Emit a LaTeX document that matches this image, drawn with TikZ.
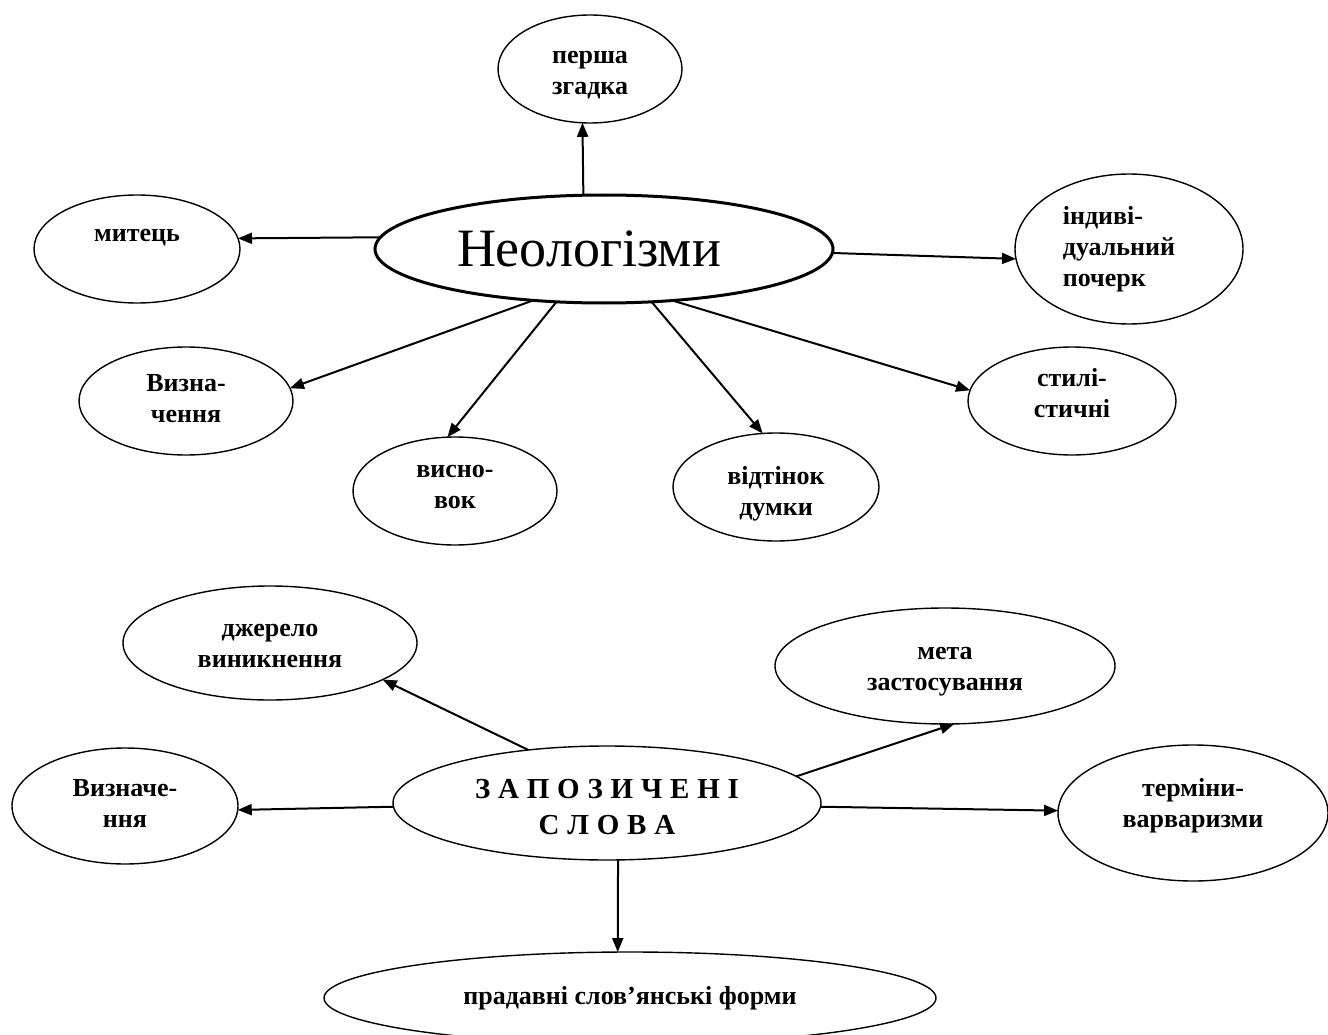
\documentclass[tikz,border=0pt]{standalone}
\usepackage{fontspec}
\setmainfont{Liberation Serif}
\usetikzlibrary{shapes.geometric,arrows.meta}
\newcommand{\btx}[2][0pt]{\raisebox{#1}[\height][\depth]{\begin{tabular}{@{}c@{}}#2\end{tabular}}}

\begin{document}
\begin{tikzpicture}[x=1pt,y=-1pt,
  bub/.style={ellipse,draw,line width=1.4pt,inner sep=0pt,outer sep=0pt,
    font=\fontsize{26}{31}\selectfont\bfseries},
  arr/.style={line width=2pt,-{Triangle[length=14pt,width=11pt]}}]
\useasboundingbox (0,0) rectangle (1328,1035);
\node[bub,line width=3pt,minimum width=458pt,minimum height=108pt,font=\fontsize{54}{60}\selectfont] (neo) at (604,249) {\hspace*{-30pt}Неологізми};
\node[bub,minimum width=184pt,minimum height=108pt] (per) at (590,69) {\btx[-4pt]{перша\\згадка}};
\node[bub,minimum width=206pt,minimum height=108pt] (mit) at (137,249) {\raisebox{11pt}[\height][\depth]{митець}};
\node[bub,minimum width=214pt,minimum height=108pt] (viz) at (186,401) {\btx{Визна-\\чення}};
\node[bub,minimum width=204pt,minimum height=108pt] (vis) at (455,491) {\btx[4pt]{висно-\\вок}};
\node[bub,minimum width=206pt,minimum height=108pt] (vid) at (776,487) {\btx[-7pt]{відтінок\\думки}};
\node[bub,minimum width=208pt,minimum height=108pt] (sty) at (1072,401) {\btx[5pt]{стилі-\\стичні}};
\node[bub,minimum width=228pt,minimum height=150pt] (ind) at (1129,249) {\begin{tabular}{@{}l@{\hspace{20pt}}}індиві-\\дуальний\\почерк\end{tabular}};
\draw[arr] (neo.111) -- (per.262);
\draw[arr] (neo.177) -- (mit.6);
\draw[arr] (neo.216) -- (viz.7);
\draw[arr] (neo.228) -- (vis.98);
\draw[arr] (neo.312) -- (vid.104);
\draw[arr] (neo.323) -- (sty.174);
\draw[arr] (neo.359) -- (ind.185);
\node[bub,minimum width=428pt,minimum height=114pt,font=\fontsize{29}{36}\selectfont\bfseries] (zap) at (607,803) {\spaceskip=7.8pt\relax\btx[-6pt]{З А П О З И Ч Е Н І\\С Л О В А}};
\node[bub,minimum width=294pt,minimum height=114pt] (dje) at (270,643) {\btx[-3pt]{джерело\\виникнення}};
\node[bub,minimum width=340pt,minimum height=116pt] (met) at (945,666) {\btx[-3pt]{мета\\застосування}};
\node[bub,minimum width=226pt,minimum height=116pt] (vzn) at (125,806) {\btx{Визначе-\\ння}};
\node[bub,minimum width=270pt,minimum height=136pt] (ter) at (1193,813) {\btx[7pt]{терміни-\\варваризми}};
\node[bub,minimum width=612pt,minimum height=92pt] (pra) at (630,998) {прадавні слов’янські форми};
\draw[arr] (zap.146) -- (dje.342);
\draw[arr] (zap.8) -- (met.279);
\draw[arr] (zap.181) -- (vzn.358);
\draw[arr] (zap.359) -- (ter.179);
\draw[arr] (zap.281) -- (pra.105);
\end{tikzpicture}
\end{document}
